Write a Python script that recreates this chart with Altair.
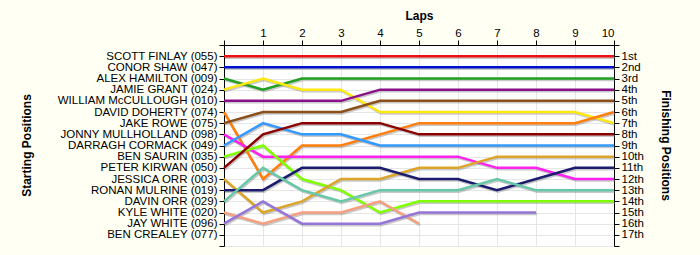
import altair as alt
import pandas as pd

laps = list(range(0, 11))
drivers = [
    "SCOTT FINLAY (055)", "CONOR SHAW (047)", "ALEX HAMILTON (009)", "JAMIE GRANT (024)",
    "WILLIAM McCULLOUGH (010)", "DAVID DOHERTY (074)", "JAKE ROWE (075)",
    "JONNY MULLHOLLAND (098)", "DARRAGH CORMACK (049)", "BEN SAURIN (035)",
    "PETER KIRWAN (050)", "JESSICA ORR (003)", "RONAN MULRINE (019)", "DAVIN ORR (029)",
    "KYLE WHITE (020)", "JAY WHITE (096)", "BEN CREALEY (077)",
]
finish_labels = ["1st", "2nd", "3rd", "4th", "5th", "6th", "7th", "8th", "9th", "10th",
                 "11th", "12th", "13th", "14th", "15th", "16th", "17th"]

# positions by lap 0..10 (None = not running)
positions = {
    "SCOTT FINLAY (055)":       [1, 1, 1, 1, 1, 1, 1, 1, 1, 1, 1],
    "CONOR SHAW (047)":         [2, 2, 2, 2, 2, 2, 2, 2, 2, 2, 2],
    "ALEX HAMILTON (009)":      [3, 4, 3, 3, 3, 3, 3, 3, 3, 3, 3],
    "JAMIE GRANT (024)":        [4, 3, 4, 4, 6, 6, 6, 6, 6, 6, 7],
    "WILLIAM McCULLOUGH (010)": [5, 5, 5, 5, 4, 4, 4, 4, 4, 4, 4],
    "DAVID DOHERTY (074)":      [6, 12, 9, 9, 8, 7, 7, 7, 7, 7, 6],
    "JAKE ROWE (075)":          [7, 6, 6, 6, 5, 5, 5, 5, 5, 5, 5],
    "JONNY MULLHOLLAND (098)":  [8, 10, 10, 10, 10, 10, 10, 11, 11, 12, 12],
    "DARRAGH CORMACK (049)":    [9, 7, 8, 8, 9, 9, 9, 9, 9, 9, 9],
    "BEN SAURIN (035)":         [10, 9, 12, 13, 15, 14, 14, 14, 14, 14, 14],
    "PETER KIRWAN (050)":       [11, 8, 7, 7, 7, 8, 8, 8, 8, 8, 8],
    "JESSICA ORR (003)":        [12, 15, 14, 12, 12, 11, 11, 10, 10, 10, 10],
    "RONAN MULRINE (019)":      [13, 13, 11, 11, 11, 12, 12, 13, 12, 11, 11],
    "DAVIN ORR (029)":          [14, 11, 13, 14, 13, 13, 13, 12, 13, 13, 13],
    "KYLE WHITE (020)":         [15, 16, 15, 15, 14, 16, None, None, None, None, None],
    "JAY WHITE (096)":          [16, 14, 16, 16, 16, 15, 15, 15, 15, None, None],
    "BEN CREALEY (077)":        [None] * 11,
}
colors = ["#ee1111", "#0011cc", "#22a022", "#ffe812", "#8a108a", "#ff7f0e", "#8b4f1a",
          "#ff22ee", "#3399ff", "#7fff00", "#8b0000", "#dca52a", "#1c1c6e", "#66c8a8",
          "#f5a080", "#9575d8", "#999999"]

rows = []
for d in drivers:
    for lap, p in zip(laps, positions[d]):
        if p is not None:
            rows.append({"driver": d, "lap": lap, "pos": p})
df = pd.DataFrame(rows)

name_arr = "[" + ",".join("'" + s + "'" for s in [""] + drivers + [""]) + "]"
fin_arr = "[" + ",".join("'" + s + "'" for s in [""] + finish_labels + [""]) + "]"

FONT = "Liberation Sans"
LFS = 11.5

x = alt.X("lap:Q", scale=alt.Scale(domain=[0, 10], nice=False, zero=False),
          axis=alt.Axis(orient="top", values=laps, title="Laps",
                        labelExpr="datum.value == 0 ? '' : datum.label",
                        titleFontWeight="bold", titleFontSize=12,
                        titleX=195, titleY=-30, titleBaseline="middle",
                        labelFontSize=LFS, labelFont=FONT, titleFont=FONT,
                        labelColor="#000", titleColor="#000", domainColor="#000",
                        tickColor="#000", tickSize=5, labelPadding=2, labelOverlap=False,
                        gridColor="#e6e6e6", grid=True))
yscale = alt.Scale(domain=[0, 18], reverse=True, nice=False, zero=False)
yvals = list(range(0, 19))

y_left = alt.Y("pos:Q", scale=yscale,
               axis=alt.Axis(orient="left", values=yvals, title="Starting Positions",
                             labelExpr=name_arr + "[datum.value]",
                             titleFontWeight="bold", titleFontSize=12,
                             titleX=-191, titleY=100, titleAngle=270,
                             labelFontSize=LFS, labelFont=FONT, titleFont=FONT,
                             labelColor="#000", titleColor="#000", domainColor="#000",
                             tickColor="#000", tickSize=5, labelPadding=2,
                             labelOverlap=False, labelBound=False,
                             gridColor="#e6e6e6", grid=True))
y_right = alt.Y("pos:Q", scale=yscale,
                axis=alt.Axis(orient="right", values=yvals, title="Finishing Positions",
                              labelExpr=fin_arr + "[datum.value]",
                              titleFontWeight="bold", titleFontSize=12,
                              titleX=44, titleY=100, titleAngle=90,
                              labelFontSize=LFS, labelFont=FONT, titleFont=FONT,
                              labelColor="#000", titleColor="#000", domainColor="#000",
                              tickColor="#000", tickSize=5, labelPadding=2,
                              labelOverlap=False, labelBound=False, grid=False))

color = alt.Color("driver:N", scale=alt.Scale(domain=drivers, range=colors), legend=None)

base = alt.Chart(df)
shadow = base.mark_line(color="#777777", opacity=0.4, strokeWidth=2.5,
                        xOffset=1, yOffset=1.5).encode(
    x=x, y=y_right, detail="driver:N", order="lap:Q")
lines = base.mark_line(strokeWidth=2.5).encode(
    x=x, y=y_left, color=color, order="lap:Q")

chart = alt.layer(shadow, lines).resolve_axis(y="independent").properties(
    width=390, height=201,
    autosize="none",
    padding={"left": 224, "top": 45, "right": 86, "bottom": 9},
    background="#fffff4",
).configure_view(fill="#ffffff", stroke=None)

chart.save("out.html", embed_options={"renderer": "svg", "actions": False})
